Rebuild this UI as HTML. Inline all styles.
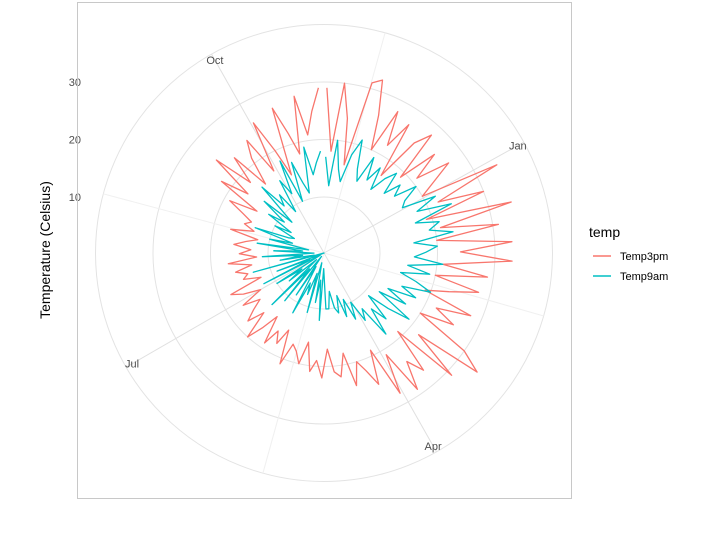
<!DOCTYPE html>
<html><head><meta charset="utf-8"><style>
body{margin:0;background:#fff;font-family:"Liberation Sans",sans-serif}
</style></head><body>
<svg id="chart" width="720" height="532" xmlns="http://www.w3.org/2000/svg" font-family="Liberation Sans, sans-serif">
<rect x="0" y="0" width="720" height="532" fill="#fff"/>
<g id="grid"></g>
<g id="series"></g>
<g id="labels"></g>
<rect x="77.5" y="2.5" width="494" height="496" fill="none" stroke="#c8c8c8" stroke-width="1"/>
<text transform="translate(50,250) rotate(-90)" text-anchor="middle" font-size="14" fill="#000">Temperature (Celsius)</text>
<g>
<text x="589" y="237" font-size="14" fill="#000">temp</text>
<line x1="593" y1="256" x2="611" y2="256" stroke="#F8766D" stroke-width="1.4"/>
<text x="620" y="260" font-size="11" fill="#000">Temp3pm</text>
<line x1="593" y1="276" x2="611" y2="276" stroke="#00BFC4" stroke-width="1.4"/>
<text x="620" y="280" font-size="11" fill="#000">Temp9am</text>
</g>
</svg>
<script>
const temp3pm = [29,18,30,24,16,31,32,26,20,28,
22,27,17,25,28,19,26,21,27,23,
20,34,22,30,19,34,21,31,20,33,
24,33,21,29,20,28,23,19,28,22,
26,20,30,34,22,31,19,27,24,29,
21,28,19,25,22,20,24,18,22,21,
17,22,19,21,16,20,18,17,21,15,
18,16,19,14,17,20,15,18,16,14,
17,13,16,18,12,15,14,16,13,17,
12,15,13,16,14,12,17,13,15,14,
16,19,14,22,17,25,18,23,16,21,
24,17,26,20,15,27,22,18,28,21,25,29];
const temp9am = [17,12,20,15,13,18,21,16,14,19,
15,18,14,17,19,15,18,16,20,17,
16,22,18,24,17,21,19,23,16,20,
18,16,21,15,19,14,17,20,15,18,
13,17,12,19,15,11,16,13,18,12,
14,10,13,9,12,8,11,10,7,10,
10,3,12,5,9,2,11,4,8,6,
12,3,9,1,11,4,13,2,8,5,
10,1,12,3,9,0,13,2,8,4,
11,2,9,4,12,3,10,6,13,7,
6,10,7,12,9,14,8,16,11,13,
9,15,12,18,10,17,13,11,19,14,16,18];
const dayStep = 3;
const monthLabels = ["Jan","Apr","Jul","Oct"];
const monthDays = [61,152,243,335];
const radialTicks = [10,20,30];

const cx=324, cy=253;
function rScale(v){return Math.max(0,5.75*v-1.5);}
function aScale(day){return (1+day*360/366)*Math.PI/180;}
function pt(day,v){const a=aScale(day),r=rScale(v);return [cx+r*Math.sin(a),cy-r*Math.cos(a)];}
const NS="http://www.w3.org/2000/svg";
function mk(tag,attrs,parent){const e=document.createElementNS(NS,tag);for(const k in attrs)e.setAttribute(k,attrs[k]);parent.appendChild(e);return e;}
const grid=document.getElementById('grid'),series=document.getElementById('series'),labels=document.getElementById('labels');
[10,20,30,40].forEach(v=>{
  const c=mk('circle',{cx:cx,cy:cy,r:rScale(v),fill:'none',stroke:'#e3e3e3','stroke-width':1},grid);
  
  
});
monthDays.forEach((d,i)=>{
  const [x,y]=pt(d,40);
  const l=mk('line',{x1:cx,y1:cy,x2:x,y2:y,stroke:'#e0e0e0','stroke-width':1},grid);
  
  
  const dm=d+45.75;
  const [x2,y2]=pt(dm,40);
  const l2=mk('line',{x1:cx,y1:cy,x2:x2,y2:y2,stroke:'#f0f0f0','stroke-width':1},grid);
  
  
  const [lx,ly]=pt(d,38.8);
  const t=mk('text',{x:lx,y:ly+4,'text-anchor':'middle','font-size':11,fill:'#4d4d4d'},labels);
  t.textContent=monthLabels[i];
  
  
});
radialTicks.forEach(v=>{
  const t=mk('text',{x:81,y:cy-rScale(v)+4,'text-anchor':'end','font-size':11,fill:'#4d4d4d'},labels);
  t.textContent=v;
  
  
});
function drawLine(arr,color,name){
  const d=arr.map((v,i)=>{const [x,y]=pt(i*dayStep,v);return (i?'L':'M')+x.toFixed(1)+','+y.toFixed(1);}).join('');
  const p=mk('path',{d:d,fill:'none',stroke:color,'stroke-width':1.3,'stroke-linejoin':'round'},series);
  
  
}
drawLine(temp3pm,'#F8766D','temp3pm-line');
drawLine(temp9am,'#00BFC4','temp9am-line');
</script>
</body></html>
